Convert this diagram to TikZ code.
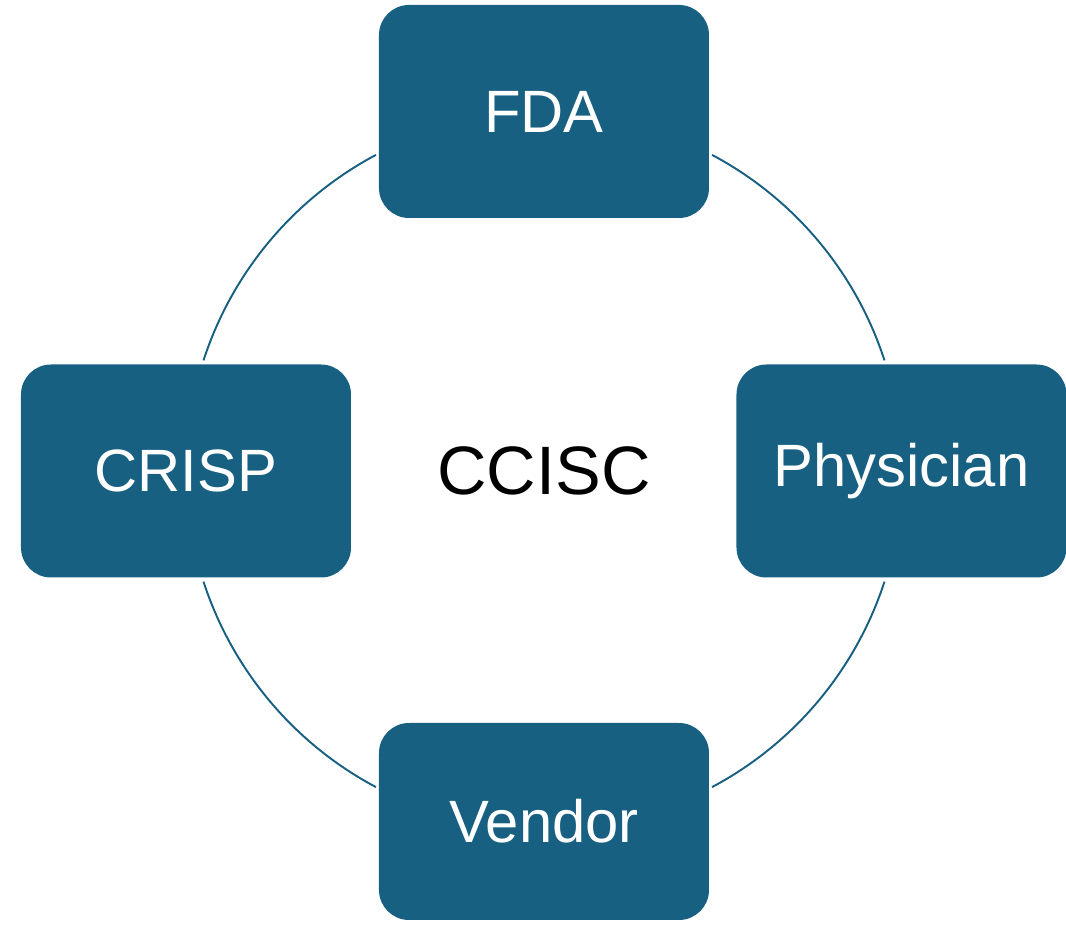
\documentclass[tikz,border=0pt]{standalone}
\usepackage{fontspec}
\setmainfont{Liberation Sans}
\usetikzlibrary{positioning}

\definecolor{ccblue}{RGB}{23,96,130}

\begin{document}
\begin{tikzpicture}[
	party/.style={
		rectangle,
		rounded corners=0.6cm,
		fill=ccblue,
		text=white,
		align=center,
		font=\fontsize{34}{40}\selectfont,
		minimum width=6.6cm,
		minimum height=4.26cm
	},
	hub/.style={
		font=\fontsize{39}{46}\selectfont,
		text=black
	},
	ring/.style={
		draw=ccblue,
		line width=1.1pt
	}
	]
	\useasboundingbox (-10.88,-9.2) rectangle (10.44,9.42);

	\node[hub] (CCISC) at (0,0) {CCISC};

	\node[party] (FDA) at (0,7.19) {FDA};
	\node[party] (CRISP) at (-7.16,0) {CRISP};
	\node[party] (Physician) at (7.15,0) {Physician};
	\node[party, minimum height=3.94cm] (Vendor) at (0,-7.01) {\raisebox{-0.1cm}{Vendor}};

	% arcs of the cycle between the boxes
	\def\r{7.16}
	\foreach \a/\b in {18/62, 118/162, 198/242, 298/342}{
		\draw[ring] ([shift={(\a:\r)}]CCISC.center) arc[start angle=\a, end angle=\b, radius=\r];
	}
\end{tikzpicture}
\end{document}
